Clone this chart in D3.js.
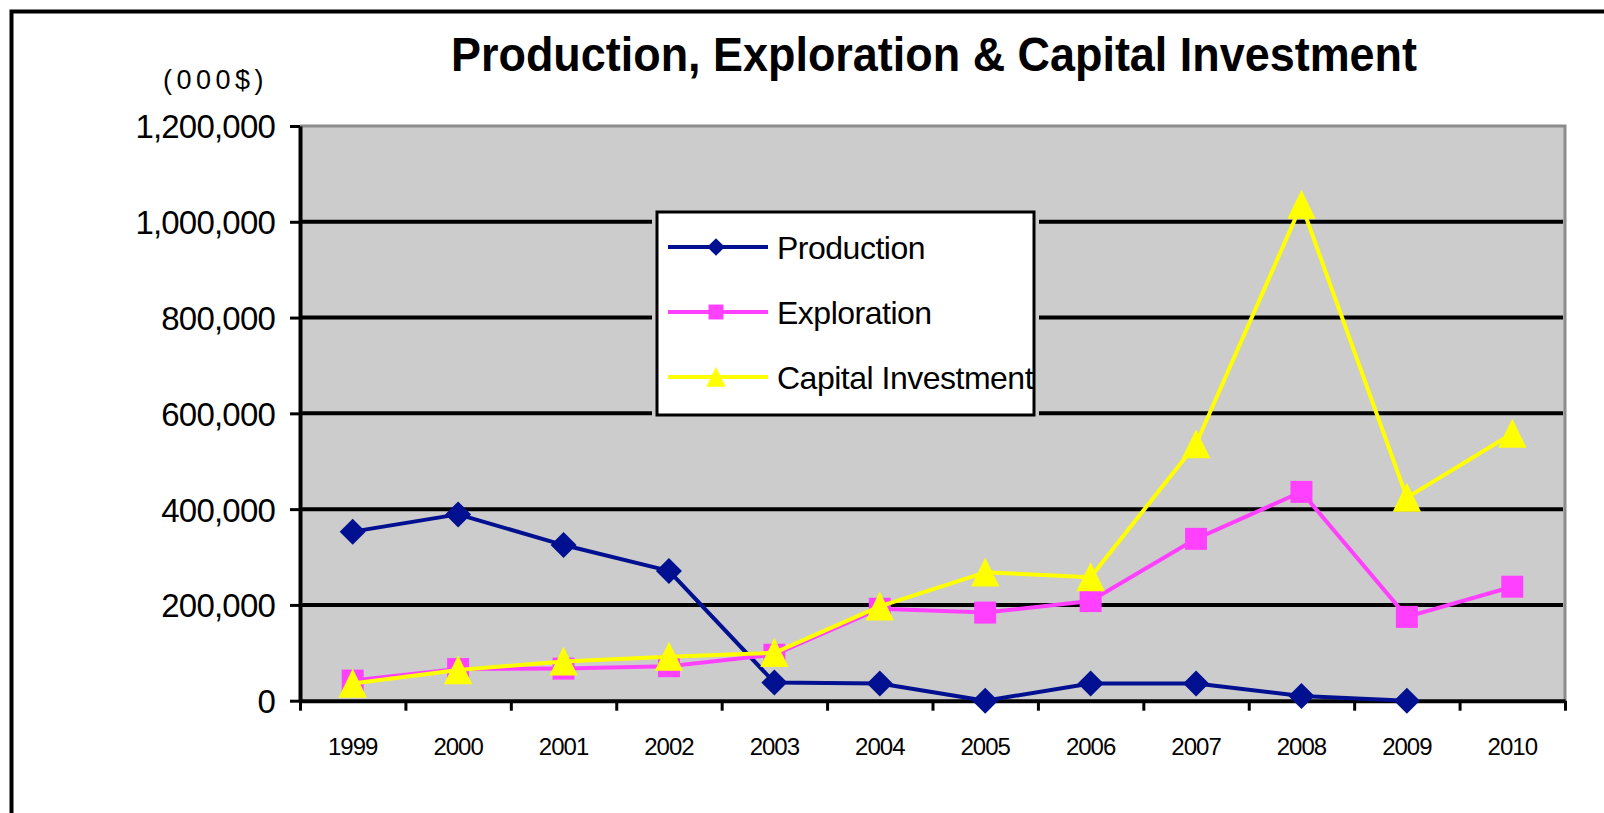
<!DOCTYPE html>
<html>
<head>
<meta charset="utf-8">
<script src="https://cdn.jsdelivr.net/npm/d3@7"></script>
<style>
  body { margin: 0; background: #fff; }
  svg { display: block; }
</style>
</head>
<body>
<svg id="chart" width="1604" height="813"></svg>
<script>
// chart data
const years = ["1999", "2000", "2001", "2002", "2003", "2004", "2005", "2006", "2007", "2008", "2009", "2010"]
const production = [353000, 389000, 325000, 271000, 38000, 36000, 0, 36000, 36000, 10000, 0, null]
const exploration = [42000, 66000, 67000, 72000, 96000, 192000, 184000, 208000, 338000, 436000, 175000, 238000]
const capitalInvestment = [36000, 64000, 82000, 92000, 100000, 197000, 268000, 258000, 536000, 1036000, 424000, 558000]
const yTicks = [0, 200000, 400000, 600000, 800000, 1000000, 1200000]
const seriesNames = ["Production", "Exploration", "Capital Investment"]

const series = [
  {name: seriesNames[0], values: production, color: "#001090", marker: "diamond"},
  {name: seriesNames[1], values: exploration, color: "#ff40ff", marker: "square"},
  {name: seriesNames[2], values: capitalInvestment, color: "#ffff00", marker: "triangle"}
]

let svg = d3.select("#chart")
let plot = {left: 300, right: 1565, top: 126, bottom: 700.7}

// scales: x is a category index scale so ticks fall between years
let x = d3.scaleLinear().domain([0, years.length]).range([plot.left, plot.right])
let y = d3.scaleLinear().domain([0, 1200000]).range([plot.bottom, plot.top])

// marker shapes, centred on the point
const markerPath = (type, s) => {
  if (type === "diamond") return `M0,${-s}L${s},0L0,${s}L${-s},0Z`
  if (type === "square") return `M${-s},${-s}H${s}V${s}H${-s}Z`
  return `M0,${-s * 1.1}L${s * 1.05},${s * 1.05}H${-s * 1.05}Z`
}
const markerSize = {diamond: 13, square: 11, triangle: 13.5}

// outer frame (only top and left are inside the picture)
svg.append("path")
  .attr("d", "M11.5,813V11.5H1604")
  .attr("fill", "none")
  .attr("stroke", "#000")
  .attr("stroke-width", 4)

// title
svg.append("text")
  .attr("x", 451)
  .attr("y", 71)
  .attr("textLength", 966)
  .attr("lengthAdjust", "spacingAndGlyphs")
  .style("font", "bold 48px 'Liberation Sans Narrow', 'Arial Narrow', 'Liberation Sans', sans-serif")
  .text("Production, Exploration & Capital Investment")

// units label
svg.append("text")
  .attr("x", 163)
  .attr("y", 89)
  .style("font", "27px 'Liberation Sans', Arial, sans-serif")
  .style("letter-spacing", "4.5px")
  .text("(000$)")

// plot background and its gray border
svg.append("rect")
  .attr("x", plot.left)
  .attr("y", plot.top)
  .attr("width", plot.right - plot.left)
  .attr("height", plot.bottom - plot.top)
  .attr("fill", "#cccccc")

svg.append("path")
  .attr("d", `M${plot.left},${plot.top}H${plot.right}V${plot.bottom}`)
  .attr("fill", "none")
  .attr("stroke", "#8c8c8c")
  .attr("stroke-width", 3)

// gridlines
svg.append("g")
  .selectAll("line")
  .data(yTicks.slice(1, -1))
  .enter().append("line")
    .attr("x1", plot.left)
    .attr("x2", plot.right - 2)
    .attr("y1", d => y(d))
    .attr("y2", d => y(d))
    .attr("stroke", "#000")
    .attr("stroke-width", 4)

// y axis
let yAxis = svg.append("g")
  .attr("transform", `translate(${plot.left},0)`)
  .call(d3.axisLeft(y).tickValues(yTicks).tickSize(10).tickSizeOuter(0).tickFormat(d3.format(",")))
yAxis.select(".domain").attr("stroke-width", 4)
yAxis.selectAll(".tick line").attr("stroke-width", 3)
yAxis.selectAll(".tick text")
  .attr("x", -25)
  .attr("dy", "0.36em")
  .style("font", "33px 'Liberation Sans', Arial, sans-serif")
  .style("letter-spacing", "-0.8px")
  .attr("fill", "#000")

// x axis: ticks between categories
let xAxis = svg.append("g")
  .attr("transform", `translate(0,${plot.bottom})`)
  .call(d3.axisBottom(x).tickValues(d3.range(years.length + 1)).tickSize(10).tickSizeOuter(0).tickFormat(""))
xAxis.select(".domain").attr("stroke-width", 4)
xAxis.selectAll(".tick line").attr("stroke-width", 3)

svg.append("g")
  .selectAll("text")
  .data(years)
  .enter().append("text")
    .attr("x", (d, i) => x(i + 0.5))
    .attr("y", 755)
    .attr("text-anchor", "middle")
    .style("font", "24px 'Liberation Sans', Arial, sans-serif")
    .style("letter-spacing", "-1px")
    .text(d => d)

// lines and markers
let line = d3.line()
  .defined(d => d != null)
  .x((d, i) => x(i + 0.5))
  .y(d => y(d))

let seriesG = svg.selectAll(".series")
  .data(series)
  .enter().append("g")
    .attr("class", "series")

seriesG.append("path")
  .attr("d", d => line(d.values))
  .attr("fill", "none")
  .attr("stroke", d => d.color)
  .attr("stroke-width", 4)
  .attr("stroke-linejoin", "round")

seriesG.each(function (s) {
  d3.select(this).selectAll(".marker")
    .data(s.values.map((v, i) => ({v: v, i: i})).filter(p => p.v != null))
    .enter().append("path")
      .attr("class", "marker")
      .attr("transform", p => `translate(${x(p.i + 0.5)},${y(p.v)})`)
      .attr("d", markerPath(s.marker, markerSize[s.marker]))
      .attr("fill", s.color)
})

// legend
let legend = {x: 657, y: 212, w: 377, h: 203}
svg.append("rect")
  .attr("x", legend.x - 5)
  .attr("y", legend.y - 5)
  .attr("width", legend.w + 10)
  .attr("height", legend.h + 10)
  .attr("fill", "#cccccc")

svg.append("clipPath")
  .attr("id", "legend-clip")
  .append("rect")
    .attr("x", legend.x)
    .attr("y", legend.y)
    .attr("width", legend.w)
    .attr("height", legend.h)

svg.append("rect")
  .attr("x", legend.x)
  .attr("y", legend.y)
  .attr("width", legend.w)
  .attr("height", legend.h)
  .attr("fill", "#fff")

let legendItems = svg.append("g")
  .attr("clip-path", "url(#legend-clip)")
  .selectAll("g")
  .data(series)
  .enter().append("g")
    .attr("transform", (d, i) => `translate(${legend.x},${legend.y + 35 + i * 65})`)

legendItems.append("line")
  .attr("x1", 11)
  .attr("x2", 111)
  .attr("stroke", d => d.color)
  .attr("stroke-width", 4)

legendItems.append("path")
  .attr("transform", "translate(59,0)")
  .attr("d", d => markerPath(d.marker, markerSize[d.marker] * 0.68))
  .attr("fill", d => d.color)

legendItems.append("text")
  .attr("x", 120)
  .attr("dy", "0.36em")
  .style("font", "32px 'Liberation Sans', Arial, sans-serif")
  .style("letter-spacing", "-0.5px")
  .text(d => d.name)

svg.append("rect")
  .attr("x", legend.x)
  .attr("y", legend.y)
  .attr("width", legend.w)
  .attr("height", legend.h)
  .attr("fill", "none")
  .attr("stroke", "#000")
  .attr("stroke-width", 3)
</script>
</body>
</html>
